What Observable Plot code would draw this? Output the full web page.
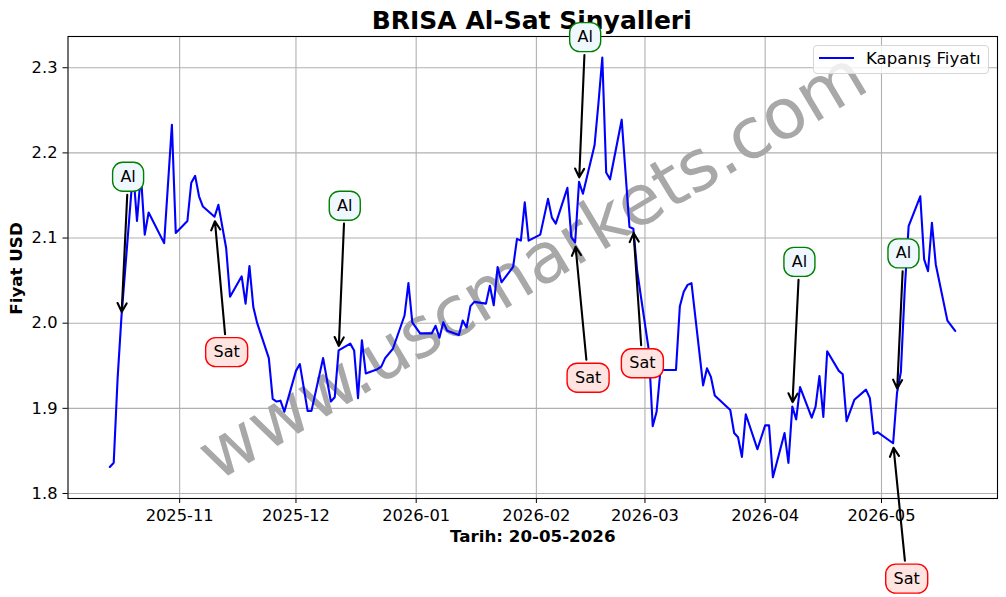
<!DOCTYPE html>
<html>
<head>
<meta charset="utf-8">
<script src="https://cdn.jsdelivr.net/npm/d3@7"></script>
<script src="https://cdn.jsdelivr.net/npm/@observablehq/plot@0.6"></script>
<style>
html,body{margin:0;padding:0;background:#fff;font-family:"DejaVu Sans",sans-serif}
#wrap{position:relative;width:1006px;height:597px;overflow:hidden}
#legend{position:absolute;left:813px;top:45px;width:174px;height:27px;border:1px solid #d6d6d6;border-radius:4px;background:rgba(255,255,255,.8);font-size:16.6px;color:#000}
#legend i{position:absolute;left:5px;top:11px;width:35px;height:2px;background:#0000ff}
#legend span{position:absolute;left:52px;top:3px;white-space:nowrap}
</style>
</head>
<body>
<div id="wrap"><div id="chart"></div><div id="legend"><i></i><span>Kapanış Fiyatı</span></div></div>
<script>
const closeDates = ["2025-10-14","2025-10-15","2025-10-16","2025-10-17","2025-10-20","2025-10-21","2025-10-22","2025-10-23","2025-10-24","2025-10-28","2025-10-30","2025-10-31",
"2025-11-03","2025-11-04","2025-11-05","2025-11-06","2025-11-07","2025-11-10","2025-11-11","2025-11-13","2025-11-14","2025-11-17","2025-11-18","2025-11-19","2025-11-20","2025-11-21","2025-11-24","2025-11-25","2025-11-26","2025-11-27","2025-11-28",
"2025-12-01","2025-12-02","2025-12-04","2025-12-05","2025-12-08","2025-12-10","2025-12-11","2025-12-12","2025-12-15","2025-12-16","2025-12-17","2025-12-18","2025-12-19","2025-12-22","2025-12-23","2025-12-24","2025-12-26","2025-12-29","2025-12-30","2025-12-31",
"2026-01-02","2026-01-05","2026-01-06","2026-01-07","2026-01-08","2026-01-09","2026-01-12","2026-01-13","2026-01-14","2026-01-15","2026-01-16","2026-01-19","2026-01-20","2026-01-21","2026-01-22","2026-01-23","2026-01-26","2026-01-27","2026-01-28","2026-01-29","2026-01-30",
"2026-02-02","2026-02-04","2026-02-05","2026-02-06","2026-02-09","2026-02-10","2026-02-11","2026-02-12","2026-02-13","2026-02-16","2026-02-17","2026-02-18","2026-02-19","2026-02-20","2026-02-23","2026-02-24","2026-02-25","2026-02-26","2026-02-27",
"2026-03-02","2026-03-03","2026-03-04","2026-03-05","2026-03-06","2026-03-09","2026-03-10","2026-03-11","2026-03-12","2026-03-13","2026-03-16","2026-03-17","2026-03-18","2026-03-19","2026-03-23","2026-03-24","2026-03-25","2026-03-26","2026-03-27","2026-03-30",
"2026-04-01","2026-04-02","2026-04-03","2026-04-06","2026-04-07","2026-04-08","2026-04-09","2026-04-10","2026-04-13","2026-04-14","2026-04-15","2026-04-16","2026-04-17","2026-04-20","2026-04-21","2026-04-22","2026-04-24","2026-04-27","2026-04-28","2026-04-29","2026-04-30",
"2026-05-04","2026-05-05","2026-05-06","2026-05-07","2026-05-08","2026-05-11","2026-05-12","2026-05-13","2026-05-14","2026-05-15","2026-05-18","2026-05-20"];
const closeValues = [1.831,1.836,1.935,2.008,2.18,2.12,2.175,2.104,2.130,2.094,2.233,2.106,
2.12,2.165,2.173,2.149,2.137,2.125,2.139,2.088,2.031,2.055,2.023,2.067,2.019,2.0,1.959,1.911,1.908,1.909,1.896,
1.944,1.952,1.897,1.897,1.959,1.908,1.913,1.968,1.976,1.968,1.912,1.98,1.941,1.946,1.949,1.959,1.97,2.009,2.047,2.001,
1.988,1.988,1.997,1.983,2.001,1.991,1.986,2.003,1.995,2.02,2.025,2.023,2.044,2.021,2.066,2.048,2.066,2.099,2.097,2.142,2.097,
2.104,2.146,2.124,2.117,2.159,2.101,2.095,2.166,2.152,2.209,2.258,2.312,2.177,2.169,2.239,2.176,2.113,2.111,2.061,
1.968,1.879,1.896,1.945,1.945,1.945,2.02,2.037,2.045,2.047,1.927,1.947,1.937,1.915,1.898,1.871,1.866,1.843,1.893,1.852,
1.880,1.880,1.819,1.871,1.836,1.902,1.887,1.925,1.889,1.902,1.938,1.890,1.967,1.944,1.94,1.885,1.91,1.922,1.912,1.87,1.872,
1.859,1.918,1.943,2.04,2.114,2.149,2.075,2.061,2.118,2.069,2.003,1.991];

const signalKinds  = ["Al","Sat","Al","Sat","Al","Sat","Al","Al","Sat"];
const signalDates  = ["2025-10-17","2025-11-10","2025-12-12","2026-02-11","2026-02-12","2026-02-26","2026-04-08","2026-05-05","2026-05-04"];
const signalValues = [2.008,2.125,1.968,2.095,2.166,2.111,1.902,1.918,1.859];
const labelDates   = ["2025-10-18T17:00","2025-11-13T03:00","2025-12-13T14:00","2026-02-14T08:00","2026-02-13T14:00","2026-02-28T08:00","2026-04-09T20:00","2026-05-06T16:00","2026-05-07T12:00"];
const labelValues  = [2.172,1.966,2.138,1.936,2.336,1.953,2.072,2.082,1.70];

const xTicks = ["2025-11-01","2025-12-01","2026-01-01","2026-02-01","2026-03-01","2026-04-01","2026-05-01"].map(d => new Date(d));
const yTicks = [1.8,1.9,2.0,2.1,2.2,2.3];
const xDomain = ["2025-10-03T05:00Z","2026-05-30T22:00Z"].map(d => new Date(d));
const yDomain = [1.7941,2.3367];

const prices = closeDates.map((d,i) => ({date:new Date(d), value:closeValues[i]}));
const signals = signalKinds.map((k,i) => ({
  kind:k, date:new Date(signalDates[i]), value:signalValues[i],
  labelDate:new Date(labelDates[i]+"Z"), labelValue:labelValues[i]
}));
const roundedBox = (w,h,r) => ({draw(c){
  const x=-w/2,y=-h/2;
  c.moveTo(x+r,y); c.lineTo(x+w-r,y); c.arcTo(x+w,y,x+w,y+r,r);
  c.lineTo(x+w,y+h-r); c.arcTo(x+w,y+h,x+w-r,y+h,r);
  c.lineTo(x+r,y+h); c.arcTo(x,y+h,x,y+h-r,r);
  c.lineTo(x,y+r); c.arcTo(x,y,x+r,y,r); c.closePath();
}});
const al = signals.filter(s => s.kind==="Al"), sat = signals.filter(s => s.kind==="Sat");
const chart = Plot.plot({
  width:1006, height:597,
  marginLeft:67.5, marginRight:9, marginTop:36, marginBottom:99,
  style:{fontFamily:"DejaVu Sans", fontSize:"16.5px", background:"transparent", color:"#000", overflow:"visible"},
  x:{type:"utc", domain:xDomain},
  y:{domain:yDomain},
  marks:[
    Plot.gridX(xTicks,{stroke:"#b0b0b0",strokeOpacity:1,strokeWidth:1.1}),
    Plot.gridY(yTicks,{stroke:"#b0b0b0",strokeOpacity:1,strokeWidth:1.1}),
    Plot.text(["www.uscmarkets.com"],{frameAnchor:"middle",dx:0,dy:-1,rotate:-31,fontSize:70,fill:"#a8a8a8"}),
    Plot.line(prices,{x:"date",y:"value",stroke:"#0000ff",strokeWidth:2.1,curve:"linear"}),
    Plot.frame({stroke:"#000",strokeWidth:1.1}),
    Plot.axisX({ticks:xTicks,tickFormat:d3.utcFormat("%Y-%m"),tickSize:5,tickPadding:6,label:null,fontSize:16.3,stroke:"#000"}),
    Plot.axisY({ticks:yTicks,tickFormat:d3.format(".1f"),tickSize:5,tickPadding:5.5,label:null,fontSize:16.3,stroke:"#000"}),
    Plot.text(["Tarih: 20-05-2026"],{frameAnchor:"bottom",dy:43,fontWeight:"bold",fontSize:16.7}),
    Plot.text(["Fiyat USD"],{frameAnchor:"left",textAnchor:"middle",dx:-51.5,dy:1,rotate:-90,fontWeight:"bold",fontSize:16.7}),
    Plot.text(["BRISA Al-Sat Sinyalleri"],{frameAnchor:"top",dy:-25,dx:-1,fontWeight:"bold",fontSize:25}),
    Plot.arrow(signals,{x1:"labelDate",y1:"labelValue",x2:"date",y2:"value",stroke:"#000",strokeWidth:2.1,headLength:7,headAngle:55,insetStart:18,insetEnd:4.5}),
    Plot.dot(al,{x:"labelDate",y:"labelValue",symbol:roundedBox(31,29,10),fill:"#f0f8ff",stroke:"#008000",strokeWidth:1.4}),
    Plot.dot(sat,{x:"labelDate",y:"labelValue",symbol:roundedBox(42,29,10),fill:"#ffe4e1",stroke:"#ff0000",strokeWidth:1.4}),
    Plot.text(signals,{x:"labelDate",y:"labelValue",text:"kind",fontSize:16,fill:"#000"})
  ]
});
document.getElementById("chart").appendChild(chart);
</script>
</body>
</html>
